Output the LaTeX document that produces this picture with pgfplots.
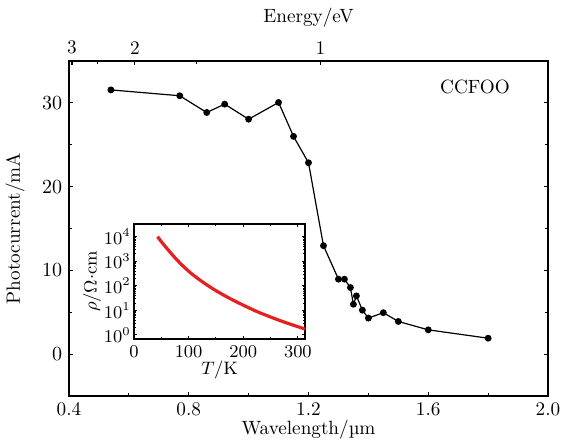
\documentclass[border=0pt]{standalone}
\usepackage{pgfplots}
\pgfplotsset{compat=1.18}
\definecolor{curvered}{RGB}{228,32,36}
\pgfplotstableread{
lam I
0.54 31.55
0.77 30.85
0.86 28.85
0.92 29.85
1.00 28.05
1.10 30.05
1.15 26.0
1.20 22.85
1.25 12.95
1.30 8.95
1.32 8.95
1.34 7.95
1.35 5.95
1.36 6.95
1.38 5.25
1.40 4.3
1.45 4.95
1.50 3.9
1.60 2.9
1.80 1.9
}\photodata
\pgfplotstableread{
T rho
43 10000
50 6310
58 3800
66 2344
78 1175
90 631
105 316
121 170
136 100
151 61.7
166 39.8
182 25.7
197 17.6
212 12.2
227 8.6
243 6.2
258 4.6
273 3.47
293 2.45
313 1.75
}\rhodata
\begin{document}
\fontsize{9.6}{11.5}\selectfont
\begin{tikzpicture}
\useasboundingbox (-34.5pt,-24.5pt) rectangle (247pt,198pt);
% main axis
\begin{axis}[
  at={(0pt,0pt)}, anchor=south west,
  width=239.5pt, height=167.5pt, scale only axis,
  xmin=0.4, xmax=2.0, ymin=-5, ymax=35,
  xtick={0.4,0.8,1.2,1.6,2.0},
  xticklabels={0.4,0.8,1.2,1.6,2.0},
  minor xtick={0.6,1.0,1.4,1.8},
  ytick={0,10,20,30},
  minor ytick={5,15,25},
  xtick pos=bottom, ytick pos=both,
  tick align=inside,
  major tick length=2pt, minor tick length=1.3pt,
  axis line style={line width=0.8pt},
  tick style={line width=0.6pt, black},
  tick label style={font=\fontsize{9.6}{11.5}\selectfont},
  label style={font=\fontsize{9.6}{11.5}\selectfont},
  xlabel={Wavelength/µm},
  ylabel={Photocurrent/mA},
  every axis x label/.append style={at={(axis description cs:0.5,-0.1015)}, anchor=center},
  every axis y label/.append style={at={(axis description cs:-0.1127,0.5)}, anchor=center},
  clip=false,
]
\addplot[black, line width=0.6pt, mark=*, mark size=1.4pt] table[x=lam, y=I] {\photodata};
\node[font=\fontsize{9.6}{11.5}\selectfont] at (axis cs:1.756,31.9) {CCFOO};
\end{axis}
% top energy axis
\begin{axis}[
  at={(0pt,0pt)}, anchor=south west,
  width=239.5pt, height=167.5pt, scale only axis,
  xmin=0.4, xmax=2.0, ymin=-5, ymax=35,
  axis x line*=top, axis y line=none,
  xtick={0.41,0.62,1.24}, xticklabels={3,2,1},
  minor xtick={0.496,0.8267},
  tick align=inside,
  major tick length=2pt, minor tick length=1.3pt,
  axis line style={line width=0.8pt},
  tick style={line width=0.6pt, black},
  tick label style={font=\fontsize{9.6}{11.5}\selectfont},
  label style={font=\fontsize{9.6}{11.5}\selectfont},
  xlabel={Energy/eV},
  every axis x label/.append style={at={(axis description cs:0.5,1.128)}, anchor=center},
]
\addplot[draw=none] coordinates {(1,0)};
\end{axis}
% inset
\begin{axis}[
  at={(32.5pt,28.5pt)}, anchor=south west,
  width=85.5pt, height=57.5pt, scale only axis,
  ymode=log,
  xmin=0, xmax=313, ymin=0.687, ymax=32800,
  xtick={0,100,200,300},
  minor xtick={50,150,250},
  ytick={1,10,100,1000,10000},
  tick align=inside,
  xtick pos=both, ytick pos=both,
  major tick length=1.6pt, minor tick length=1pt,
  axis line style={line width=0.8pt},
  tick style={line width=0.5pt, black},
  xticklabel style={font=\fontsize{8.8}{10}\selectfont},
  yticklabel style={font=\fontsize{8.6}{9.5}\selectfont, inner sep=1.5pt},
  label style={font=\fontsize{9.2}{11}\selectfont},
  xlabel={$T/\mathrm{K}$},
  ylabel={$\rho/\Omega{\cdot}\mathrm{cm}$},
  every axis x label/.append style={at={(axis description cs:0.5,-0.27)}, anchor=center},
  every axis y label/.append style={at={(axis description cs:-0.245,0.5)}, anchor=center},
  axis background/.style={fill=white},
]
\addplot[curvered, line width=1.6pt, smooth] table[x=T, y=rho] {\rhodata};
\end{axis}
\end{tikzpicture}
\end{document}
